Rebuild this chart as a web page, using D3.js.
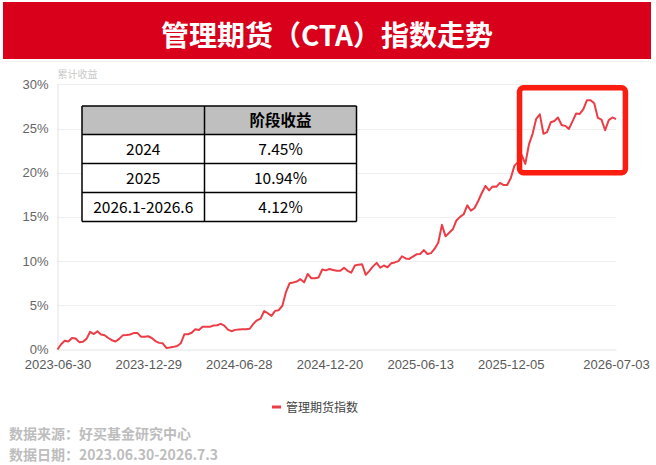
<!DOCTYPE html>
<html>
<head>
<meta charset="utf-8">
<script src="https://cdn.jsdelivr.net/npm/d3@7"></script>
<style>
  body { margin: 0; background: #fff; }
  text { font-family: "Noto Sans CJK SC", "Noto Sans", sans-serif; }
  .tick text { font-family: "Liberation Sans", Arial, sans-serif; }
</style>
</head>
<body>
<div class="chart"></div>
<script>
/* Global Constants
============================================= */
const SVG_WIDTH = 656;
const SVG_HEIGHT = 465;

const textTitle = "管理期货（CTA）指数走势";
const textYName = "累计收益";
const textSeries = "管理期货指数";
const textSource = "数据来源：好买基金研究中心";
const textDate = "数据日期：2023.06.30-2026.7.3";
const textHeader = "阶段收益";

const LINE_COLOR = "#ec3d47";
const BOX_COLOR = "#fb1d10";

/* Data
============================================= */
// x tick labels and the point index they sit on
var tickLabels = ["2023-06-30", "2023-12-29", "2024-06-28", "2024-12-20", "2025-06-13", "2025-12-05", "2026-07-03"];
var tickIndex = [0, 25, 50, 75, 100, 125, 154];

// cumulative return (%), one value per week
var indexValues = [
    0.0, 0.6, 1.0, 0.9, 1.3, 1.25, 0.83, 0.88, 1.2, 2.0,
    1.75, 2.05, 1.7, 1.62, 1.3, 1.05, 0.9, 1.2, 1.6, 1.63,
    1.7, 1.86, 1.88, 1.45, 1.45, 1.5, 1.3, 0.95, 0.75, 0.7,
    0.18, 0.22, 0.3, 0.4, 0.7, 1.73, 1.73, 1.9, 2.3, 2.2,
    2.56, 2.56, 2.56, 2.72, 2.75, 2.9, 2.7, 2.25, 2.07, 2.22,
    2.25, 2.28, 2.3, 2.35, 2.9, 3.3, 3.5, 4.35, 4.1, 3.8,
    4.37, 4.45, 4.95, 6.5, 7.5, 7.59, 7.7, 7.96, 7.6, 8.55,
    8.05, 8.05, 8.15, 9.05, 8.95, 9.1, 9.0, 8.9, 8.9, 9.25,
    8.9, 8.7, 9.5, 9.6, 9.63, 8.45, 8.9, 9.4, 9.8, 9.25,
    9.5, 9.3, 9.75, 9.85, 10.0, 10.55, 10.3, 10.25, 10.5, 10.77,
    10.8, 11.25, 10.8, 10.9, 11.4, 12.1, 14.1, 12.8, 13.2, 13.6,
    14.6, 15.0, 15.3, 16.3, 15.7, 16.0, 16.8, 17.7, 18.5, 18.0,
    18.45, 18.4, 18.85, 18.6, 18.6, 19.4, 20.8, 21.2, 22.0, 21.0,
    23.2, 24.4, 26.1, 26.6, 24.4, 24.6, 25.7, 25.85, 26.25, 25.4,
    25.3, 24.95, 25.8, 26.7, 26.65, 27.2, 28.2, 28.2, 27.85, 26.2,
    26.0, 24.8, 25.95, 26.25, 26.05
];

var yTicks = [0, 5, 10, 15, 20, 25, 30];

// stage return table
var tablePeriods = ["2024", "2025", "2026.1-2026.6"];
var tableReturns = ["7.45%", "10.94%", "4.12%"];

// highlighted range (index / value corners of the red box)
var boxFrom = 127.4;
var boxTo = 156.6;
var boxLow = 20.0;
var boxHigh = 29.6;

/* Layout
============================================= */
var plotLeft = 57.5,
    plotRight = 616,
    plotTop = 84.3,
    plotBottom = 349.5;

var svg = d3.select(".chart")
    .append("svg")
    .attr("width", SVG_WIDTH)
    .attr("height", SVG_HEIGHT);

var xScale = d3.scaleLinear()
    .domain([0, indexValues.length - 1])
    .range([plotLeft, plotRight]);

var yScale = d3.scaleLinear()
    .domain([0, 30])
    .range([plotBottom, plotTop]);

//****************** title bar ******************//
svg.append("rect")
    .attr("x", 3)
    .attr("y", 2)
    .attr("width", 648)
    .attr("height", 57)
    .attr("fill", "#d9001b");

svg.append("text")
    .attr("x", 327)
    .attr("y", 46)
    .attr("text-anchor", "middle")
    .attr("fill", "#fff")
    .attr("font-size", 28)
    .attr("font-weight", "bold")
    .text(textTitle);

svg.append("line")
    .attr("x1", 3).attr("x2", 651)
    .attr("y1", 61.5).attr("y2", 61.5)
    .attr("stroke", "#f2f2f2");

//****************** grid + axes ******************//
svg.append("g")
    .selectAll("line")
    .data(yTicks.filter(function(d) { return d > 0; }))
    .enter()
    .append("line")
    .attr("x1", plotLeft)
    .attr("x2", plotRight)
    .attr("y1", function(d) { return Math.round(yScale(d)) + 0.5; })
    .attr("y2", function(d) { return Math.round(yScale(d)) + 0.5; })
    .attr("stroke", "#dcdcdc")
    .attr("stroke-dasharray", "1,1");

var leftAxis = d3.axisLeft(yScale)
    .tickValues(yTicks)
    .tickFormat(function(d) { return d + "%"; })
    .tickSize(0)
    .tickPadding(9);

var yAxis = svg.append("g")
    .attr("transform", `translate(${plotLeft}, 0)`)
    .call(leftAxis);
yAxis.select(".domain").attr("stroke", "#e3e3e3");
yAxis.selectAll("text")
    .attr("fill", "#666")
    .attr("font-size", 13)
    .attr("dy", "0.3em");

var bottomAxis = d3.axisBottom(xScale)
    .tickValues(tickIndex)
    .tickFormat(function(d, i) { return tickLabels[i]; })
    .tickSize(0)
    .tickPadding(9.8);

var xAxis = svg.append("g")
    .attr("transform", `translate(0, ${plotBottom})`)
    .call(bottomAxis);
xAxis.select(".domain").attr("stroke", "#e3e3e3");
xAxis.selectAll("text")
    .attr("fill", "#595959")
    .attr("font-size", 13);

svg.append("text")
    .attr("x", plotLeft)
    .attr("y", 78)
    .attr("fill", "#c8c8c8")
    .attr("font-size", 10)
    .text(textYName);

//****************** series line ******************//
var line = d3.line()
    .x(function(d, i) { return xScale(i); })
    .y(function(d) { return yScale(d); });

svg.append("path")
    .datum(indexValues)
    .attr("d", line)
    .attr("fill", "none")
    .attr("stroke", LINE_COLOR)
    .attr("stroke-width", 2)
    .attr("stroke-linejoin", "round");

//****************** highlight box ******************//
svg.append("rect")
    .attr("x", xScale(boxFrom))
    .attr("y", yScale(boxHigh))
    .attr("width", xScale(boxTo) - xScale(boxFrom))
    .attr("height", yScale(boxLow) - yScale(boxHigh))
    .attr("rx", 4)
    .attr("fill", "none")
    .attr("stroke", BOX_COLOR)
    .attr("stroke-width", 5.5);

//****************** stage table ******************//
var tableX = 82,
    tableY = 106,
    colSplit = 204.5,
    tableW = 274.5,
    headH = 28.5,
    rowH = 29;

var table = svg.append("g");

table.append("rect")
    .attr("x", tableX)
    .attr("y", tableY)
    .attr("width", tableW)
    .attr("height", headH)
    .attr("fill", "#bfbfbf");

table.append("rect")
    .attr("x", tableX)
    .attr("y", tableY + headH)
    .attr("width", tableW)
    .attr("height", rowH * tablePeriods.length)
    .attr("fill", "#fff");

// horizontal rules
table.selectAll("line.h")
    .data(d3.range(tablePeriods.length + 2))
    .enter()
    .append("line")
    .attr("class", "h")
    .attr("x1", tableX)
    .attr("x2", tableX + tableW)
    .attr("y1", function(d) { return d === 0 ? tableY : tableY + headH + (d - 1) * rowH; })
    .attr("y2", function(d) { return d === 0 ? tableY : tableY + headH + (d - 1) * rowH; })
    .attr("stroke", "#000")
    .attr("stroke-width", 1.5);

// vertical rules
table.selectAll("line.v")
    .data([tableX, colSplit, tableX + tableW])
    .enter()
    .append("line")
    .attr("class", "v")
    .attr("x1", function(d) { return d; })
    .attr("x2", function(d) { return d; })
    .attr("y1", tableY)
    .attr("y2", tableY + headH + rowH * tablePeriods.length)
    .attr("stroke", "#000")
    .attr("stroke-width", 1.5);

table.append("text")
    .attr("x", (colSplit + tableX + tableW) / 2)
    .attr("y", tableY + headH / 2 + 5.5)
    .attr("text-anchor", "middle")
    .attr("font-size", 15.5)
    .attr("font-weight", "bold")
    .attr("fill", "#000")
    .text(textHeader);

table.selectAll("text.period")
    .data(tablePeriods)
    .enter()
    .append("text")
    .attr("class", "period")
    .attr("x", (tableX + colSplit) / 2)
    .attr("y", function(d, i) { return tableY + headH + i * rowH + rowH / 2 + 5.5; })
    .attr("text-anchor", "middle")
    .attr("font-size", 15.5)
    .attr("fill", "#000")
    .text(function(d) { return d; });

table.selectAll("text.ret")
    .data(tableReturns)
    .enter()
    .append("text")
    .attr("class", "ret")
    .attr("x", (colSplit + tableX + tableW) / 2)
    .attr("y", function(d, i) { return tableY + headH + i * rowH + rowH / 2 + 5.5; })
    .attr("text-anchor", "middle")
    .attr("font-size", 15.5)
    .attr("fill", "#000")
    .text(function(d) { return d; });

//****************** legend ******************//
svg.append("line")
    .attr("x1", 272).attr("x2", 281)
    .attr("y1", 407).attr("y2", 407)
    .attr("stroke", LINE_COLOR)
    .attr("stroke-width", 3);

svg.append("text")
    .attr("x", 286)
    .attr("y", 411.5)
    .attr("fill", "#444")
    .attr("font-size", 12)
    .text(textSeries);

//****************** footer ******************//
svg.append("text")
    .attr("x", 9)
    .attr("y", 439)
    .attr("fill", "#bdbdbd")
    .attr("font-size", 14)
    .attr("font-weight", "bold")
    .text(textSource);

svg.append("text")
    .attr("x", 9)
    .attr("y", 459.5)
    .attr("fill", "#bdbdbd")
    .attr("font-size", 14)
    .attr("font-weight", "bold")
    .text(textDate);
</script>
</body>
</html>
